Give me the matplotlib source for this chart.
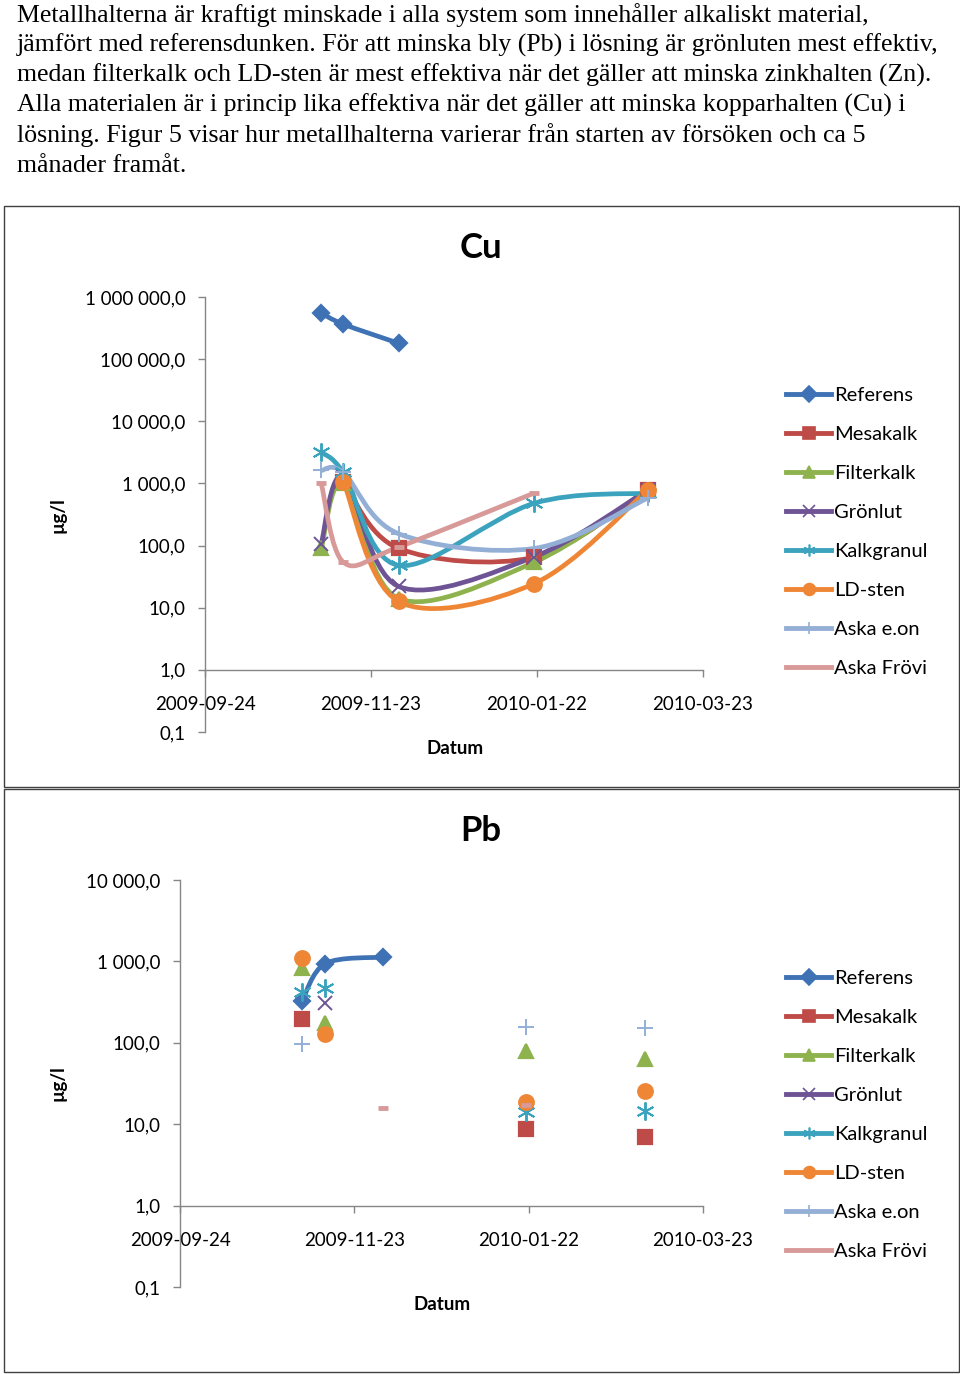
import numpy as np
import matplotlib
matplotlib.use("Agg")
import matplotlib.pyplot as plt
import matplotlib.dates as mdates
from matplotlib.path import Path
from matplotlib.patches import PathPatch, Rectangle
from matplotlib.lines import Line2D
from matplotlib.ticker import FixedLocator, FuncFormatter

nan = np.nan

# ---- data ----
intro = [
    "Metallhalterna är kraftigt minskade i alla system som innehåller alkaliskt material,",
    "jämfört med referensdunken. För att minska bly (Pb) i lösning är grönluten mest effektiv,",
    "medan filterkalk och LD-sten är mest effektiva när det gäller att minska zinkhalten (Zn).",
    "Alla materialen är i princip lika effektiva när det gäller att minska kopparhalten (Cu) i",
    "lösning. Figur 5 visar hur metallhalterna varierar från starten av försöken och ca 5",
    "månader framåt.",
]

dates = ["2009-11-05", "2009-11-13", "2009-12-03", "2010-01-21", "2010-03-03"]
tick_dates = ["2009-09-24", "2009-11-23", "2010-01-22", "2010-03-23"]

names = ["Referens", "Mesakalk", "Filterkalk", "Grönlut", "Kalkgranul",
         "LD-sten", "Aska e.on", "Aska Frövi"]

cu_referens = [550000, 365000, 180000, nan, nan]
cu_mesakalk = [nan, 1070, 90, 65, 780]
cu_filterkalk = [90, 1000, 14, 54, 780]
cu_gronlut = [107, 1300, 22, 66, 780]
cu_kalkgranul = [3160, 1500, 48, 480, 700]
cu_ldsten = [nan, 1070, 12.6, 24.5, 780]
cu_askaeon = [1620, 1500, 155, 90, 580]
cu_askafrovi = [1000, 54, 95, 700, nan]

pb_referens = [325, 940, 1130, nan, nan]
pb_mesakalk = [195, nan, nan, 8.7, 6.9]
pb_filterkalk = [830, 174, nan, 80, 63]
pb_gronlut = [nan, 310, nan, nan, nan]
pb_kalkgranul = [416, 470, nan, 14, 14.7]
pb_ldsten = [1100, 128, nan, 18.6, 25.7]
pb_askaeon = [98, nan, nan, 155, 151]
pb_askafrovi = [nan, nan, 16, 17, nan]

cu_series = [cu_referens, cu_mesakalk, cu_filterkalk, cu_gronlut,
             cu_kalkgranul, cu_ldsten, cu_askaeon, cu_askafrovi]
pb_series = [pb_referens, pb_mesakalk, pb_filterkalk, pb_gronlut,
             pb_kalkgranul, pb_ldsten, pb_askaeon, pb_askafrovi]

# ---- style ----
colors = ["#3F72B5", "#BE4B48", "#8EB34E", "#6E5494", "#3BA3BD",
          "#EE8635", "#94AFD6", "#D79A98"]
markers = ["D", "s", "^", "x", (6, 2, 0), "o", "+", "_"]
msizes = [8, 9.5, 10, 10, 13, 10.5, 12, 7]
mews = [1.6, 1.6, 1.6, 1.4, 1.4, 1.6, 1.4, 3.5]

W, H = 960, 1374
fig = plt.figure(figsize=(W / 100, H / 100), dpi=100)


def fx(px):
    return px / W


def fy(py):
    return 1 - py / H


sans = ["Lato", "DejaVu Sans"]
TICK = 13.5
LEG = 14.5

for i, line in enumerate(intro):
    fig.text(fx(17), fy(22 + 30 * i), line, family="Liberation Serif",
             fontsize=18.6, va="baseline", ha="left")

# chart frames
for top, bot in [(206, 787), (789, 1372)]:
    fig.add_artist(Rectangle((fx(4), fy(bot)), fx(959) - fx(4), fy(top) - fy(bot),
                             transform=fig.transFigure, fill=False,
                             edgecolor="#404040", lw=1.0))

xd = mdates.date2num(np.array(dates, dtype="datetime64[D]"))
xt = mdates.date2num(np.array(tick_dates, dtype="datetime64[D]"))


def smooth_patch(x, y, color):
    # Excel-like smoothed line: cubic Bezier through points (in x, log10 y)
    pts = np.column_stack([x, np.log10(y)])
    n = len(pts)
    verts = [pts[0]]
    codes = [Path.MOVETO]
    for i in range(n - 1):
        p0 = pts[i - 1] if i > 0 else pts[i]
        p1 = pts[i]
        p2 = pts[i + 1]
        p3 = pts[i + 2] if i + 2 < n else pts[i + 1]
        verts += [p1 + (p2 - p0) / 6, p2 - (p3 - p1) / 6, p2]
        codes += [Path.CURVE4] * 3
    verts = np.array(verts)
    verts[:, 1] = 10 ** verts[:, 1]
    return PathPatch(Path(verts, codes), fill=False, edgecolor=color,
                     lw=3.4, capstyle="butt", joinstyle="round", zorder=2)


def yfmt(v, pos):
    return f"{v:,.1f}".replace(",", " ").replace(".", ",")


def make_chart(rect, series, ymax, with_lines, title, title_y, datum_xy, ylab_y, leg_top):
    ax = fig.add_axes(rect)
    for k, vals in enumerate(series):
        v = np.array(vals, dtype=float)
        c = colors[k]
        if k in with_lines:
            ok = ~np.isnan(v)
            # split into consecutive runs
            idx = np.where(ok)[0]
            runs = np.split(idx, np.where(np.diff(idx) != 1)[0] + 1)
            for r in runs:
                if len(r) > 1:
                    p = smooth_patch(xd[r], v[r], c)
                    p.set_transform(ax.transData)
                    ax.add_patch(p)
        ax.plot(xd, v, ls="none", marker=markers[k], ms=msizes[k],
                mfc=c, mec=c, mew=mews[k], color=c, zorder=3)

    ax.set_yscale("log")
    ax.set_ylim(0.1, ymax)
    ax.set_xlim(xt[0], xt[-1])
    ax.yaxis.set_major_locator(FixedLocator(10.0 ** np.arange(-1, np.log10(ymax) + 0.5)))
    ax.yaxis.set_minor_locator(FixedLocator([]))
    ax.yaxis.set_major_formatter(FuncFormatter(yfmt))
    ax.xaxis.set_major_locator(FixedLocator(xt))
    ax.xaxis.set_major_formatter(mdates.DateFormatter("%Y-%m-%d"))
    ax.spines["top"].set_visible(False)
    ax.spines["right"].set_visible(False)
    ax.spines["bottom"].set_position(("data", 1.0))
    for s in ["left", "bottom"]:
        ax.spines[s].set_color("#868686")
        ax.spines[s].set_linewidth(1.0)
    ax.tick_params(axis="x", direction="out", length=5, width=1, color="#868686",
                   pad=14, labelsize=TICK)
    ax.tick_params(axis="y", direction="out", length=5, width=1, color="#868686",
                   pad=9, labelsize=TICK)
    for lab in ax.get_xticklabels() + ax.get_yticklabels():
        lab.set_family(sans)
    ax.patch.set_alpha(0)

    fig.text(fx(481), fy(title_y), title, family=sans, fontsize=25,
             fontweight="bold", ha="center", va="center")
    fig.text(fx(datum_xy[0]), fy(datum_xy[1]), "Datum", family=sans,
             fontsize=TICK, fontweight="bold", ha="center", va="center")
    fig.text(fx(58), fy(ylab_y), "µg/l", family=sans, fontsize=TICK,
             fontweight="bold", rotation=90, ha="center", va="center")

    handles = []
    for k in range(len(names)):
        if markers[k] == "_":
            h = Line2D([], [], color=colors[k], lw=3.5)
        else:
            h = Line2D([], [], color=colors[k], lw=3.5, marker=markers[k],
                       ms=8.5, mfc=colors[k], mec=colors[k], mew=1.2)
        handles.append(h)
    fig.legend(handles, names, loc="upper left",
               bbox_to_anchor=(fx(786), fy(leg_top)), frameon=False,
               prop={"family": sans, "size": LEG}, handlelength=2.25,
               handletextpad=0.15, labelspacing=1.09, borderpad=0,
               borderaxespad=0)
    return ax


make_chart([fx(205), fy(732), fx(703) - fx(205), fy(297) - fy(732)],
           cu_series, 1e6, [0, 1, 2, 3, 4, 5, 6, 7], "Cu", 248, (455, 749), 515, 387)
make_chart([fx(180), fy(1287), fx(703) - fx(180), fy(880) - fy(1287)],
           pb_series, 1e4, [0], "Pb", 831, (442, 1305), 1083, 970)

fig.savefig("out.png", dpi=100)
